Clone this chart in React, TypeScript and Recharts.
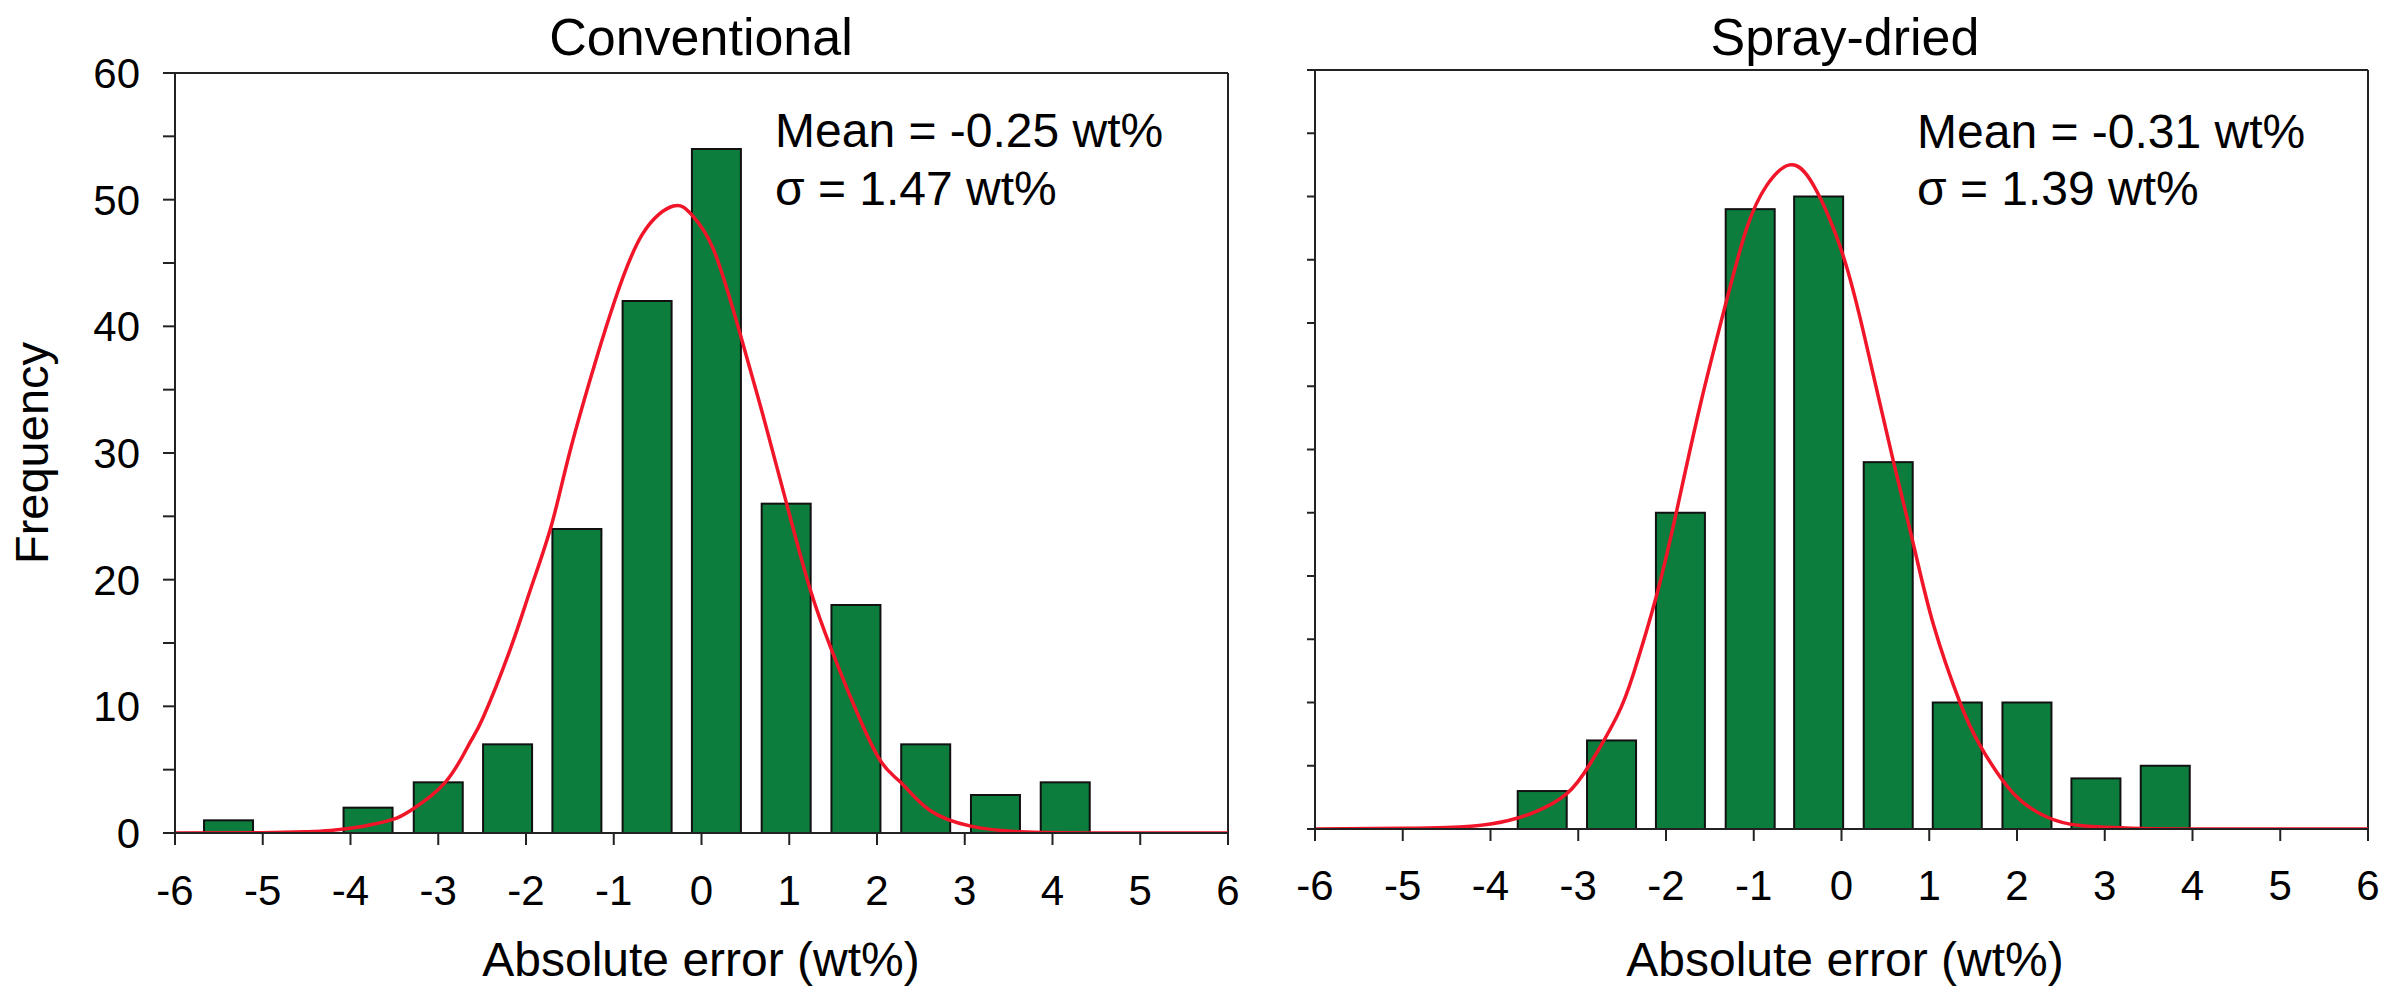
import React from 'react';
import { ComposedChart, Bar, Line, XAxis, YAxis, ReferenceLine } from 'recharts';

// ---- tick labels ----
const xTicks = [-6, -5, -4, -3, -2, -1, 0, 1, 2, 3, 4, 5, 6];
const yTicks = [0, 5, 10, 15, 20, 25, 30, 35, 40, 45, 50, 55, 60];

// ---- Conventional ----
const convBinCenters = [-5.39, -3.8, -3.0, -2.21, -1.42, -0.62, 0.17, 0.965, 1.76, 2.555, 3.35, 4.145];
const convCounts = [1, 2, 4, 7, 24, 42, 54, 26, 18, 7, 3, 4];
const convCurveX = [-6, -5, -4.5, -4.23, -3.85, -3.51, -3.31, -2.92, -2.65, -2.49, -2.18, -1.95, -1.71, -1.5, -1.2, -0.99, -0.68, -0.32, -0.11, 0.135, 0.42, 0.7, 0.97, 1.24, 1.48, 1.73, 2.03, 2.27, 2.6, 3.07, 3.63, 4.5, 5.2, 6];
const convCurveY = [0, 0.02, 0.1, 0.2, 0.54, 1.09, 1.8, 4.0, 7.0, 9.1, 14.5, 19.2, 24.3, 30.1, 37.4, 42.0, 47.2, 49.5, 48.8, 46.1, 39.9, 33.0, 26.0, 19.2, 14.5, 10.2, 5.8, 4.0, 1.8, 0.54, 0.1, 0, 0, 0];

// ---- Spray-dried ----
const sprayBinCenters = [-3.41, -2.62, -1.835, -1.04, -0.26, 0.533, 1.32, 2.114, 2.9, 3.69];
const sprayCounts = [3, 7, 25, 49, 50, 29, 10, 10, 4, 5];
const sprayCurveX = [-6, -5, -4.5, -4.0, -3.51, -3.13, -2.87, -2.56, -2.37, -2.11, -1.88, -1.61, -1.32, -1.08, -0.85, -0.59, -0.32, 0.02, 0.29, 0.59, 0.82, 1.05, 1.35, 1.58, 1.96, 2.34, 2.72, 3.41, 4.0, 5.0, 6];
const sprayCurveY = [0, 0.05, 0.12, 0.4, 1.3, 2.8, 5.1, 8.9, 12.3, 18.4, 25.1, 33.5, 41.5, 47.5, 50.9, 52.5, 50.9, 45.3, 38.1, 29.1, 22.5, 16.1, 10.0, 6.6, 2.8, 0.95, 0.27, 0.04, 0, 0, 0];

const FONT = '"Liberation Sans", Arial, Helvetica, sans-serif';
const AXIS = '#222222';
const GREEN = '#0c7d3c';
const RED = '#f01528';
const BAR_PX = 49;

type PanelProps = {
  left: number;
  width: number;
  margin: { top: number; right: number; bottom: number; left: number };
  yAxisWidth: number;
  yTickSize: number;
  showYLabels: boolean;
  xTickMargin: number;
  centers: number[];
  counts: number[];
  curveX: number[];
  curveY: number[];
};

const BarShape = (props: any) => {
  const { x, y, width, height } = props;
  if (height == null || !(height > 0)) return <g />;
  const cx = x + width / 2;
  return (
    <rect x={cx - BAR_PX / 2} y={y} width={BAR_PX} height={height} fill={GREEN} stroke="#111" strokeWidth={2} />
  );
};

function Panel(p: PanelProps) {
  const bars = p.centers.map((x, i) => ({ x, count: p.counts[i] }));
  const curve = p.curveX.map((x, i) => ({ x, y: p.curveY[i] }));
  return (
    <div style={{ position: 'absolute', left: p.left, top: 0 }}>
      <ComposedChart width={p.width} height={994} data={bars} margin={p.margin}>
        <XAxis
          dataKey="x"
          type="number"
          domain={[-6, 6]}
          ticks={xTicks}
          allowDataOverflow
          height={80}
          tickSize={12}
          tickMargin={p.xTickMargin}
          axisLine={{ stroke: AXIS, strokeWidth: 2 }}
          tickLine={{ stroke: AXIS, strokeWidth: 2 }}
          tick={{ fill: '#000', fontSize: 42, fontFamily: FONT }}
          interval={0}
        />
        <YAxis
          type="number"
          domain={[0, 60]}
          ticks={yTicks}
          allowDataOverflow
          width={p.yAxisWidth}
          tickSize={p.yTickSize}
          tickMargin={23}
          interval={0}
          axisLine={{ stroke: AXIS, strokeWidth: 2 }}
          tickLine={{ stroke: AXIS, strokeWidth: 2 }}
          tick={{ fill: '#000', fontSize: 42, fontFamily: FONT }}
          tickFormatter={(v: number) => (p.showYLabels && v % 10 === 0 ? String(v) : '')}
        />
        <ReferenceLine y={60} stroke={AXIS} strokeWidth={2} />
        <ReferenceLine x={6} stroke={AXIS} strokeWidth={2} />
        <Bar dataKey="count" fill={GREEN} stroke="#111" strokeWidth={2} shape={BarShape} isAnimationActive={false} />
        <Line
          data={curve}
          dataKey="y"
          type="natural"
          stroke={RED}
          strokeWidth={3.5}
          dot={false}
          activeDot={false}
          isAnimationActive={false}
        />
      </ComposedChart>
    </div>
  );
}

export default function App() {
  return (
    <div style={{ position: 'absolute', left: 0, top: 0, width: 2386, height: 994, background: '#fff', overflow: 'hidden' }}>
      <Panel
        left={0}
        width={1250}
        margin={{ top: 73, right: 22, bottom: 81, left: 75 }}
        yAxisWidth={100}
        yTickSize={12}
        showYLabels={true}
        xTickMargin={30}
        centers={convBinCenters}
        counts={convCounts}
        curveX={convCurveX}
        curveY={convCurveY}
      />
      <Panel
        left={1240}
        width={1146}
        margin={{ top: 70, right: 18, bottom: 85, left: 35 }}
        yAxisWidth={40}
        yTickSize={8}
        showYLabels={false}
        xTickMargin={29}
        centers={sprayBinCenters}
        counts={sprayCounts}
        curveX={sprayCurveX}
        curveY={sprayCurveY}
      />
      <svg width={2386} height={994} style={{ position: 'absolute', left: 0, top: 0, pointerEvents: 'none' }} fontFamily={FONT}>
        <text x={701} y={55} fontSize={52} textAnchor="middle" fill="#000">Conventional</text>
        <text x={1845} y={55} fontSize={52} textAnchor="middle" fill="#000">Spray-dried</text>
        <text x={775} y={147} fontSize={48} fill="#000">Mean = -0.25 wt%</text>
        <text x={775} y={205} fontSize={48} fill="#000">σ = 1.47 wt%</text>
        <text x={1917} y={148} fontSize={48} fill="#000">Mean = -0.31 wt%</text>
        <text x={1917} y={205} fontSize={48} fill="#000">σ = 1.39 wt%</text>
        <text x={701} y={976} fontSize={48} textAnchor="middle" fill="#000">Absolute error (wt%)</text>
        <text x={1845} y={976} fontSize={48} textAnchor="middle" fill="#000">Absolute error (wt%)</text>
        <text x={48} y={453} fontSize={47} textAnchor="middle" fill="#000" transform="rotate(-90 48 453)">Frequency</text>
      </svg>
    </div>
  );
}
